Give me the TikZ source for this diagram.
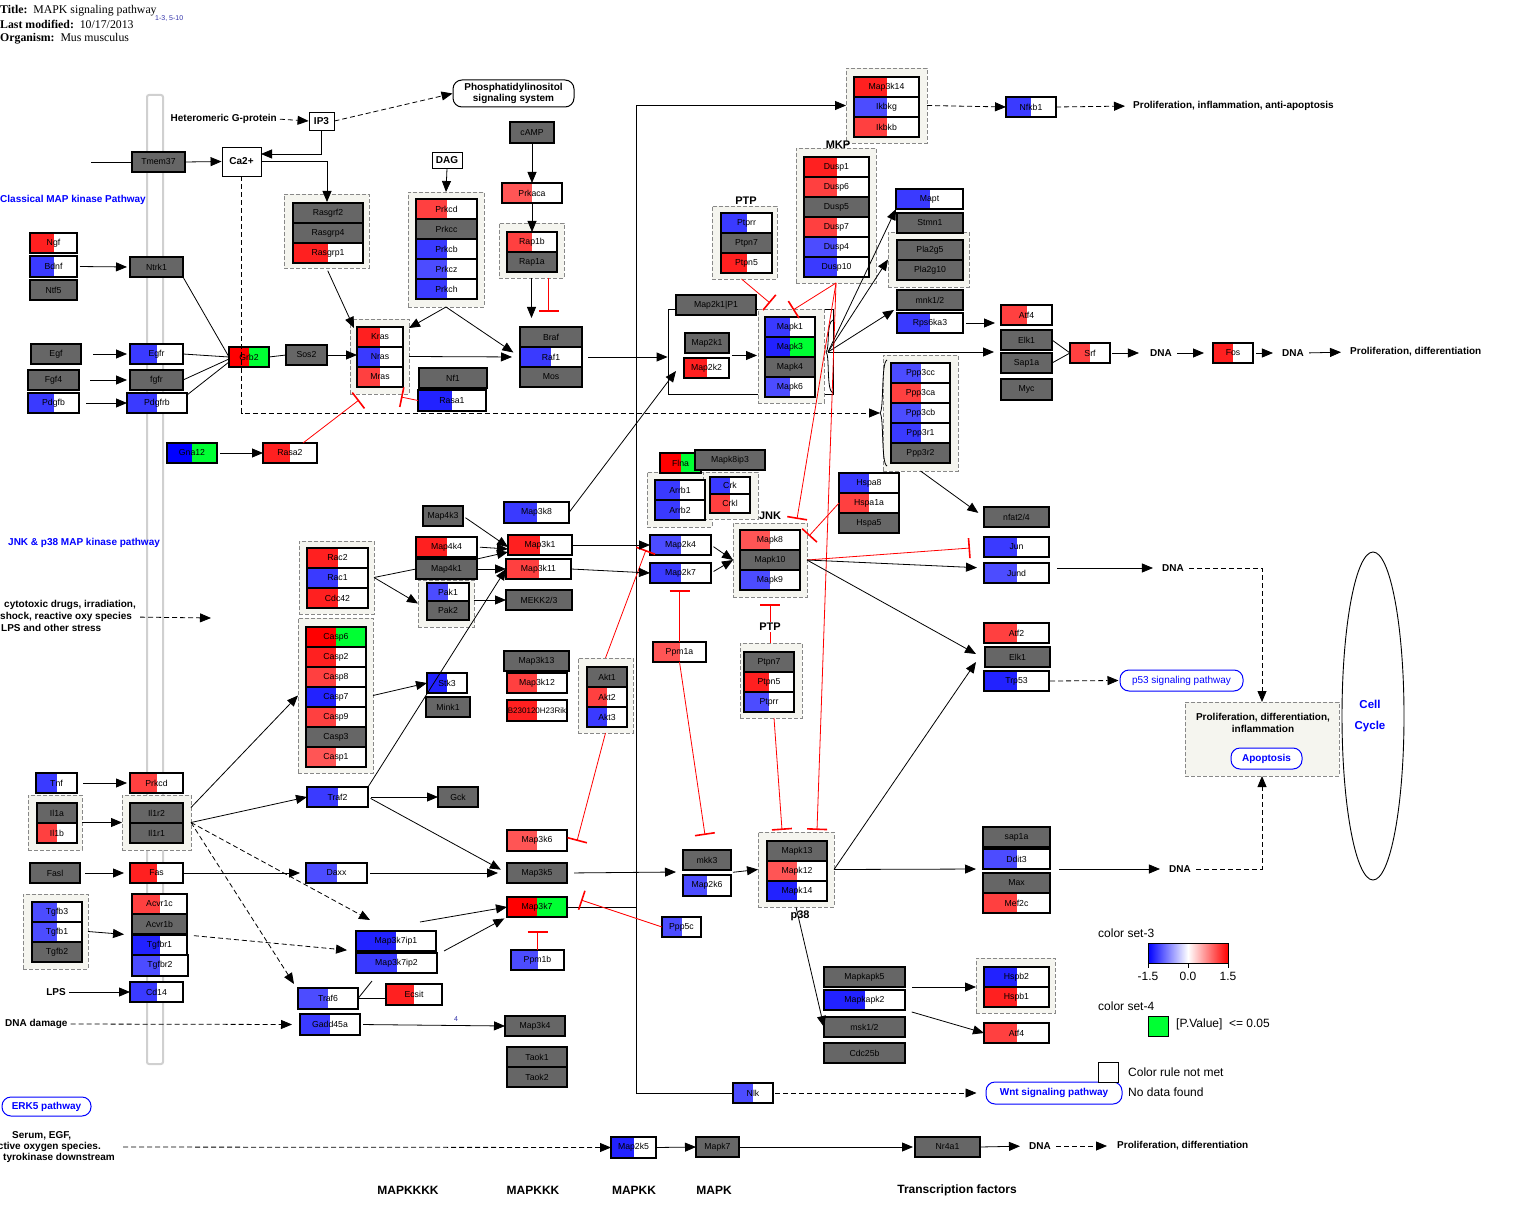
\documentclass[tikz,border=0pt]{standalone}
\usepackage{fontspec}
\setmainfont{Liberation Sans}
\newfontfamily\hdrserif{Liberation Serif}
\usetikzlibrary{arrows.meta,shapes.geometric,calc}
\definecolor{ngray}{HTML}{666666}
\definecolor{ra}{HTML}{FF2020}
\definecolor{rb}{HTML}{FF4040}
\definecolor{rc}{HTML}{FF5555}
\definecolor{rr}{HTML}{FF0000}
\definecolor{ba}{HTML}{2222FF}
\definecolor{bb}{HTML}{3A3AFF}
\definecolor{bc}{HTML}{4C4CFF}
\definecolor{bp}{HTML}{0000FF}
\definecolor{gg}{HTML}{00FF33}
\definecolor{ivory}{HTML}{F5F5EF}
\definecolor{grpborder}{HTML}{888888}
\definecolor{lanegray}{HTML}{D0D0D0}
\definecolor{hdrblue}{HTML}{3333AA}
\newcommand\genefont{\fontsize{8.7}{9.5}\selectfont}
\newcommand\lblfont{\bfseries\fontsize{10}{11.5}\selectfont}
\newcommand\midfont{\bfseries\fontsize{11}{12}\selectfont}
\newcommand\bigfont{\bfseries\fontsize{12}{13}\selectfont}
\newcommand\legfont{\fontsize{12}{13}\selectfont}
\newcommand\hdrfont{\hdrserif\fontsize{11.8}{13}\selectfont}
\tikzset{
  gene/.style={draw=black,line width=1.1pt,inner sep=0pt,outer sep=0pt,font=\genefont,text=black},
  grp/.style={draw=grpborder,dash pattern=on 4pt off 2pt,fill=ivory,line width=0.8pt,inner sep=0pt,outer sep=0pt},
  wbx/.style={draw=black,line width=0.9pt,fill=white,inner sep=0pt,font=\lblfont},
  pwb/.style={draw=blue,line width=1pt,rounded corners=9pt,text=blue,font=\lblfont,inner sep=0pt,fill=white},
  lbl/.style={font=\lblfont,inner sep=0pt},
  ln/.style={line width=0.8pt},
  con/.style={line width=0.8pt,-{Triangle[length=11pt,width=9pt]},shorten <=3pt},
  dcon/.style={con,dash pattern=on 5pt off 3pt},
  inh/.style={draw=red,line width=0.8pt,-{Bar[width=20pt,line width=1.6pt]}},
}
% gray gene box
\newcommand\geneN[6]{%
  \node[gene,fill=ngray,minimum width={(#4)-(#2)},minimum height={(#5)-(#3)}] (#1) at ({((#2)+(#4))/2},{((#3)+(#5))/2}) {#6};}
% half coloured gene box
\newcommand\geneC[7]{%
  \fill[white] (#2,#3) rectangle (#4,#5);
  \fill[#6] (#2,#3) rectangle ({((#2)+(#4))/2},#5);
  \node[gene,minimum width={(#4)-(#2)},minimum height={(#5)-(#3)}] (#1) at ({((#2)+(#4))/2},{((#3)+(#5))/2}) {#7};}
% two coloured gene box
\newcommand\geneD[8]{%
  \fill[#7] (#2,#3) rectangle (#4,#5);
  \fill[#6] (#2,#3) rectangle ({((#2)+(#4))/2},#5);
  \node[gene,minimum width={(#4)-(#2)},minimum height={(#5)-(#3)}] (#1) at ({((#2)+(#4))/2},{((#3)+(#5))/2}) {#8};}
\newcommand\grpbox[5]{%
  \node[grp,minimum width={(#4)-(#2)},minimum height={(#5)-(#3)}] (#1) at ({((#2)+(#4))/2},{((#3)+(#5))/2}) {};}
\newcommand\whitebox[6]{%
  \node[wbx,minimum width={(#4)-(#2)},minimum height={(#5)-(#3)}] (#1) at ({((#2)+(#4))/2},{((#3)+(#5))/2}) {#6};}
\begin{document}
\begin{tikzpicture}[x=1pt,y=-1pt]
\useasboundingbox (0,0) rectangle (1520,1230);
\fill[white] (0,0) rectangle (1520,1230);

% ---------- header
\node[anchor=west,font=\hdrfont,inner sep=0] (title) at (0,11) {\textbf{Title:}\ \ MAPK signaling pathway};
\node[anchor=west,font=\hdrfont,inner sep=0] (lastmod) at (0,24) {\textbf{Last modified:}\ \ 10/17/2013};
\node[anchor=west,font=\hdrfont,inner sep=0] (organism) at (0,39) {\textbf{Organism:}\ \ Mus musculus};
\node[anchor=west,font=\fontsize{7}{8}\selectfont,text=hdrblue,inner sep=0] (refs) at (155,19) {1-3, 5-10};

% ---------- membrane lane
\draw[draw=lanegray,line width=2pt,rounded corners=2pt] (147,95) rectangle (163,1064);

% ---------- big MEK rectangle
\node[draw,line width=0.8pt,minimum width=165,minimum height=85,inner sep=0] (mekbox) at (750.5,351.5) {};

% ---------- groups
\grpbox{rasgrfg}{284}{194}{369}{268}
\grpbox{rasg}{350}{319}{409}{394}
\grpbox{prkcg}{408}{192}{484}{307}
\grpbox{rap1g}{499}{223}{564}{278}
\grpbox{m3k14g}{846}{68}{927}{143}
\grpbox{mkpg}{796}{148}{876}{283}
\grpbox{ptp1g}{712}{206}{777}{279}
\grpbox{erkg}{758}{309}{824}{403}
\grpbox{pla2gg}{888}{232}{969}{287}
\grpbox{ppp3g}{883}{355}{958}{471}
\grpbox{arrbg}{647}{472}{712}{527}
\grpbox{crkg}{703}{472}{758}{519}
\grpbox{jnkg}{733}{523}{807}{597}
\grpbox{pakg}{418}{580}{474}{627}
\grpbox{racg}{299}{541}{374}{614}
\grpbox{caspg}{298}{618}{373}{773}
\grpbox{aktg}{578}{658}{633}{733}
\grpbox{ptp2g}{740}{643}{802}{718}
\grpbox{il1g}{28}{795}{82}{850}
\grpbox{il1rg}{122}{795}{191}{850}
\grpbox{tgfbg}{23}{894}{88}{969}
\grpbox{p38g}{758}{832}{834}{907}
\grpbox{hspbg}{976}{958}{1055}{1013}

% ---------- top row
\geneN{tmem}{132}{152}{185}{172}{Tmem37}
\whitebox{ca}{222}{147}{261}{176}{Ca2+}
\whitebox{ip3}{309}{112}{334}{130}{IP3}
\whitebox{dag}{432}{152}{462}{168}{DAG}
\node[pwb,draw=black,text=black,align=center,minimum width=121,minimum height=27] (pis) at (513.5,93.5) {Phosphatidylinositol\\signaling system};
\node[lbl,anchor=east] (hgp) at (277,119) {Heteromeric G-protein};
\node[lbl,anchor=west,text=blue] (classical) at (0,200) {Classical MAP kinase Pathway};

\geneN{rasgrf2}{293}{203}{363}{223}{Rasgrf2}
\geneN{rasgrp4}{293}{223}{363}{243}{Rasgrp4}
\geneC{rasgrp1}{293}{243}{363}{263}{ra}{Rasgrp1}

\geneC{ngf}{30}{233}{77}{253}{ra}{Ngf}
\geneC{bdnf}{30}{256}{77}{277}{bb}{Bdnf}
\geneN{ntf5}{30}{280}{77}{300}{Ntf5}
\geneN{ntrk1}{130}{257}{183}{277}{Ntrk1}
\geneN{egf}{31}{344}{81}{364}{Egf}
\geneC{egfr}{130}{344}{183}{364}{bb}{Egfr}
\geneN{fgf4}{28}{370}{79}{390}{Fgf4}
\geneN{fgfr}{130}{370}{183}{390}{fgfr}
\geneC{pdgfb}{28}{393}{79}{413}{bb}{Pdgfb}
\geneC{pdgfrb}{127}{393}{187}{413}{bb}{Pdgfrb}
\geneD{grb2}{229}{347}{269}{367}{rr}{gg}{Grb2}
\geneN{sos2}{286}{345}{327}{365}{Sos2}
\geneC{kras}{357}{327}{403}{347}{ra}{Kras}
\geneC{nras}{357}{347}{403}{367}{bb}{Nras}
\geneC{mras}{357}{367}{403}{387}{rb}{Mras}
\geneN{nf1}{419}{368}{487}{388}{Nf1}
\geneC{rasa1}{418}{390}{486}{411}{ba}{Rasa1}
\geneD{gna12}{167}{443}{217}{463}{bp}{gg}{Gna12}
\geneC{rasa2}{263}{443}{317}{463}{ra}{Rasa2}

\geneC{prkcd}{416}{199}{477}{219}{rb}{Prkcd}
\geneN{prkcc}{416}{219}{477}{239}{Prkcc}
\geneC{prkcb}{416}{239}{477}{259}{bb}{Prkcb}
\geneC{prkcz}{416}{259}{477}{279}{bc}{Prkcz}
\geneC{prkch}{416}{279}{477}{299}{bb}{Prkch}
\geneN{camp}{510}{122}{554}{143}{cAMP}
\geneC{prkaca}{502}{183}{562}{203}{rc}{Prkaca}
\geneC{rap1b}{507}{232}{557}{252}{rb}{Rap1b}
\geneN{rap1a}{507}{252}{557}{272}{Rap1a}
\geneN{braf}{520}{327}{582}{347}{Braf}
\geneC{raf1}{520}{347}{582}{367}{bb}{Raf1}
\geneN{mos}{520}{367}{582}{387}{Mos}

\geneN{m2kip}{676}{295}{756}{315}{Map2k1|P1}
\geneN{map2k1}{685}{333}{729}{353}{Map2k1}
\geneC{map2k2}{684}{358}{729}{378}{ra}{Map2k2}
\geneC{mapk1}{765}{317}{815}{337}{bb}{Mapk1}
\geneD{mapk3}{765}{337}{815}{357}{ba}{gg}{Mapk3}
\geneN{mapk4}{765}{357}{815}{377}{Mapk4}
\geneC{mapk6}{765}{377}{815}{397}{bc}{Mapk6}

\geneC{ptprr1}{721}{213}{772}{233}{bb}{Ptprr}
\geneN{ptpn7a}{721}{233}{772}{253}{Ptpn7}
\geneC{ptpn5a}{721}{253}{772}{273}{ra}{Ptpn5}
\node[font=\midfont,inner sep=0] (ptp1lbl) at (746,201) {PTP};

\geneC{dusp1}{804}{157}{869}{177}{ra}{Dusp1}
\geneC{dusp6}{804}{177}{869}{197}{rb}{Dusp6}
\geneN{dusp5}{804}{197}{869}{217}{Dusp5}
\geneC{dusp7}{804}{217}{869}{237}{rb}{Dusp7}
\geneC{dusp4}{804}{237}{869}{257}{bc}{Dusp4}
\geneC{dusp10}{804}{257}{869}{277}{bb}{Dusp10}
\node[font=\midfont,inner sep=0] (mkplbl) at (838,145) {MKP};

\geneC{map3k14}{854}{77}{919}{97}{ra}{Map3k14}
\geneC{ikbkg}{854}{97}{919}{117}{bc}{Ikbkg}
\geneC{ikbkb}{854}{117}{919}{137}{rb}{Ikbkb}
\geneC{nfkb1}{1006}{97}{1056}{117}{bb}{Nfkb1}
\node[lbl,anchor=west] (prolif2) at (1133,106) {Proliferation, inflammation, anti-apoptosis};

\geneC{mapt}{896}{189}{963}{209}{bb}{Mapt}
\geneN{stmn1}{897}{213}{963}{233}{Stmn1}
\geneN{pla2g5}{897}{240}{963}{260}{Pla2g5}
\geneN{pla2g10}{897}{260}{963}{280}{Pla2g10}
\geneN{mnk}{897}{290}{963}{310}{mnk1/2}
\geneC{rps6ka3}{897}{313}{963}{333}{bb}{Rps6ka3}
\geneC{atf4a}{1001}{305}{1052}{325}{rb}{Atf4}
\geneN{elk1t}{1001}{330}{1052}{350}{Elk1}
\geneN{sap1at}{1001}{353}{1052}{373}{Sap1a}
\geneN{myc}{1001}{379}{1052}{400}{Myc}
\geneC{srf}{1070}{343}{1110}{363}{rb}{Srf}
\node[lbl] (dna1) at (1161,353) {DNA};
\geneC{fos}{1213}{343}{1253}{363}{ra}{Fos}
\node[lbl] (dna2) at (1293,353) {DNA};
\node[lbl,anchor=west] (prolif1) at (1350,352) {Proliferation, differentiation};

\geneC{ppp3cc}{891}{363}{950}{383}{bc}{Ppp3cc}
\geneC{ppp3ca}{891}{383}{950}{403}{rb}{Ppp3ca}
\geneC{ppp3cb}{891}{403}{950}{423}{bc}{Ppp3cb}
\geneC{ppp3r1}{891}{423}{950}{443}{bb}{Ppp3r1}
\geneN{ppp3r2}{891}{443}{950}{463}{Ppp3r2}

% ---------- JNK region
\node[lbl,anchor=west,text=blue] (jnktxt) at (8,543) {JNK \& p38 MAP kinase pathway};
\geneD{flna}{660}{453}{701}{473}{rr}{gg}{Flna}
\geneN{mapk8ip3}{695}{450}{765}{470}{Mapk8ip3}
\geneC{arrb1}{655}{480}{705}{500}{bb}{Arrb1}
\geneC{arrb2}{655}{500}{705}{520}{bb}{Arrb2}
\geneC{crk}{710}{477}{750}{494}{bb}{Crk}
\geneC{crkl}{710}{494}{750}{513}{rb}{Crkl}
\geneC{map2k4}{650}{535}{711}{555}{bc}{Map2k4}
\geneC{map2k7}{650}{563}{711}{583}{bb}{Map2k7}
\geneC{ppm1a}{653}{642}{706}{662}{rc}{Ppm1a}
\geneC{mapk8}{740}{530}{800}{550}{rc}{Mapk8}
\geneN{mapk10}{740}{550}{800}{570}{Mapk10}
\geneC{mapk9}{740}{570}{800}{590}{bc}{Mapk9}
\node[font=\midfont,inner sep=0] (jnklbl) at (770,516) {JNK};
\geneC{hspa8}{839}{473}{899}{493}{bb}{Hspa8}
\geneC{hspa1a}{839}{493}{899}{513}{rb}{Hspa1a}
\geneN{hspa5}{839}{513}{899}{533}{Hspa5}
\geneN{nfat}{984}{507}{1049}{527}{nfat2/4}
\geneC{jun}{984}{537}{1049}{557}{bb}{Jun}
\geneC{jund}{984}{563}{1049}{583}{bc}{Jund}
\node[lbl] (dna3) at (1173,568) {DNA};
\geneC{atf2}{984}{623}{1049}{643}{rb}{Atf2}
\geneN{elk1b}{985}{647}{1050}{667}{Elk1}
\geneC{trp53}{984}{671}{1049}{691}{ba}{Trp53}
\node[pwb,font=\fontsize{10}{11}\selectfont,minimum width=123,minimum height=21] (p53) at (1181.5,680.5) {p53 signaling pathway};
\geneN{ptpn7b}{744}{652}{794}{672}{Ptpn7}
\geneC{ptpn5b}{744}{672}{794}{692}{ra}{Ptpn5}
\geneC{ptprr2}{744}{692}{794}{712}{bc}{Ptprr}

\geneN{map4k3}{423}{506}{463}{526}{Map4k3}
\geneC{map4k4}{416}{537}{477}{557}{ra}{Map4k4}
\geneN{map4k1}{416}{559}{477}{579}{Map4k1}
\geneC{pak1}{427}{583}{469}{601}{bc}{Pak1}
\geneN{pak2}{427}{601}{469}{620}{Pak2}
\geneC{map3k8}{504}{502}{569}{523}{bb}{Map3k8}
\geneC{map3k1}{508}{535}{572}{555}{ra}{Map3k1}
\geneC{map3k11}{506}{559}{571}{579}{rb}{Map3k11}
\geneN{mekk23}{506}{590}{572}{610}{MEKK2/3}

\geneC{rac2}{307}{548}{368}{568}{ra}{Rac2}
\geneC{rac1}{307}{568}{368}{588}{bb}{Rac1}
\geneC{cdc42}{307}{588}{368}{608}{ra}{Cdc42}
\geneD{casp6}{306}{627}{366}{647}{rr}{gg}{Casp6}
\geneC{casp2}{306}{647}{366}{667}{ra}{Casp2}
\geneC{casp8}{306}{667}{366}{687}{rb}{Casp8}
\geneC{casp7}{306}{687}{366}{707}{ba}{Casp7}
\geneC{casp9}{306}{707}{366}{727}{rb}{Casp9}
\geneN{casp3}{306}{727}{366}{747}{Casp3}
\geneC{casp1}{306}{747}{366}{767}{rc}{Casp1}

\node[lbl,anchor=west] (stress1) at (4,605) {cytotoxic drugs, irradiation,};
\node[lbl,anchor=west] (stress2) at (0,617) {shock, reactive oxy species};
\node[lbl,anchor=west] (stress3) at (1,628) {LPS and other stress};
\coordinate (stressend) at (211,618);

\geneC{stk3}{427}{673}{467}{693}{ba}{Stk3}
\geneN{mink1}{426}{697}{470}{717}{Mink1}
\geneN{map3k13}{504}{651}{569}{671}{Map3k13}
\geneC{map3k12}{507}{673}{567}{693}{rb}{Map3k12}
\geneC{rik}{507}{700}{567}{721}{ra}{\fontsize{8}{9}\selectfont B230120H23Rik}
\geneN{akt1}{587}{667}{627}{687}{Akt1}
\geneC{akt2}{587}{687}{627}{707}{rb}{Akt2}
\geneC{akt3}{587}{707}{627}{727}{bb}{Akt3}

% ---------- lower left
\geneC{tnf}{36}{773}{77}{793}{bb}{Tnf}
\geneC{prkcd2}{130}{773}{183}{793}{rb}{Prkcd}
\geneN{il1a}{37}{803}{77}{823}{Il1a}
\geneC{il1b}{37}{823}{77}{843}{rb}{Il1b}
\geneN{il1r2}{130}{803}{183}{823}{Il1r2}
\geneN{il1r1}{130}{823}{183}{843}{Il1r1}
\geneC{traf2}{307}{787}{368}{807}{bb}{Traf2}
\geneN{gck}{438}{787}{478}{807}{Gck}
\geneN{fasl}{30}{863}{80}{883}{Fasl}
\geneC{fas}{130}{863}{183}{883}{ra}{Fas}
\geneC{daxx}{306}{863}{367}{883}{bc}{Daxx}
\geneC{tgfb3}{32}{902}{82}{922}{bc}{Tgfb3}
\geneC{tgfb1}{32}{922}{82}{942}{bc}{Tgfb1}
\geneN{tgfb2}{32}{942}{82}{962}{Tgfb2}
\geneC{acvr1c}{132}{894}{187}{914}{rb}{Acvr1c}
\geneN{acvr1b}{132}{914}{187}{934}{Acvr1b}
\geneC{tgfbr1}{132}{935}{187}{955}{ba}{Tgfbr1}
\geneC{tgfbr2}{132}{955}{188}{976}{bc}{Tgfbr2}
\node[lbl] (lps) at (56,992) {LPS};
\geneC{cd14}{130}{982}{183}{1002}{bb}{Cd14}
\node[lbl,anchor=west] (dnadmg) at (5,1024) {DNA damage};
\geneC{m3k7ip1}{356}{931}{436}{951}{ba}{Map3k7ip1}
\geneC{m3k7ip2}{356}{953}{437}{973}{bb}{Map3k7ip2}
\geneC{traf6}{298}{988}{358}{1009}{bc}{Traf6}
\geneC{ecsit}{386}{984}{442}{1005}{ra}{Ecsit}
\geneC{gadd45a}{300}{1014}{360}{1035}{bb}{Gadd45a}

\geneC{map3k6}{507}{830}{567}{851}{rc}{Map3k6}
\geneN{map3k5}{507}{863}{567}{883}{Map3k5}
\geneD{map3k7}{507}{897}{567}{917}{rr}{gg}{Map3k7}
\geneC{ppm1b}{511}{950}{564}{970}{bc}{Ppm1b}
\geneN{map3k4}{505}{1016}{565}{1036}{Map3k4}
\geneN{taok1}{507}{1047}{567}{1067}{Taok1}
\geneN{taok2}{507}{1067}{567}{1087}{Taok2}
\geneN{mkk3}{683}{850}{731}{870}{mkk3}
\geneC{map2k6}{683}{875}{731}{896}{bc}{Map2k6}
\geneC{ppp5c}{662}{917}{701}{937}{bc}{Ppp5c}

\geneN{mapk13}{767}{841}{827}{861}{Mapk13}
\geneC{mapk12}{767}{861}{827}{881}{rc}{Mapk12}
\geneC{mapk14}{767}{881}{827}{901}{ba}{Mapk14}
\node[font=\midfont,inner sep=0] (p38lbl) at (800,916) {p38};
\geneN{sap1ab}{983}{827}{1050}{847}{sap1a}
\geneC{ddit3}{983}{849}{1050}{869}{bc}{Ddit3}
\geneN{max}{983}{873}{1050}{893}{Max}
\geneC{mef2c}{983}{893}{1050}{913}{rb}{Mef2c}
\node[lbl] (dna4) at (1180,869) {DNA};
\geneN{mapkapk5}{824}{967}{905}{987}{Mapkapk5}
\geneC{mapkapk2}{824}{990}{905}{1010}{ba}{Mapkapk2}
\geneN{msk}{824}{1017}{905}{1037}{msk1/2}
\geneN{cdc25b}{824}{1043}{905}{1063}{Cdc25b}
\geneC{hspb2}{984}{967}{1049}{987}{ba}{Hspb2}
\geneC{hspb1}{984}{987}{1049}{1007}{ra}{Hspb1}
\geneC{atf4b}{984}{1023}{1049}{1043}{rb}{Atf4}

% ---------- bottom
\node[pwb,minimum width=89,minimum height=19] (erk5) at (46.5,1106.5) {ERK5 pathway};
\node[lbl,anchor=west] (ser1) at (12,1136) {Serum, EGF,};
\node[lbl,anchor=east] (ser2) at (101,1147) {ctive oxygen species.};
\node[lbl,anchor=west] (ser3) at (3,1158) {tyrokinase downstream};
\geneC{map2k5}{611}{1137}{656}{1158}{ba}{Map2k5}
\geneN{mapk7}{696}{1137}{739}{1157}{Mapk7}
\geneN{nr4a1}{915}{1137}{980}{1157}{Nr4a1}
\node[lbl] (dna5) at (1040,1146) {DNA};
\node[lbl,anchor=west] (prolif3) at (1117,1146) {Proliferation, differentiation};
\geneC{nlk}{733}{1083}{773}{1103}{bc}{Nlk}
\node[pwb,minimum width=136,minimum height=22] (wnt) at (1054,1093) {Wnt signaling pathway};
\node[font=\bigfont,inner sep=0] (lvl1) at (408,1190) {MAPKKKK};
\node[font=\bigfont,inner sep=0] (lvl2) at (533,1190) {MAPKKK};
\node[font=\bigfont,inner sep=0] (lvl3) at (634,1190) {MAPKK};
\node[font=\bigfont,inner sep=0] (lvl4) at (714,1190) {MAPK};
\node[font=\bigfont,inner sep=0] (lvl5) at (957,1190) {Transcription factors};

% ---------- outcome box and cell cycle
\node[grp,minimum width=154,minimum height=74] (prolg) at (1262,739) {};
\node[lbl,align=center] (prolt) at (1263,723) {Proliferation, differentiation,\\inflammation};
\node[pwb,minimum width=71,minimum height=21] (apop) at (1266.5,758.5) {Apoptosis};
\node[draw,ellipse,line width=0.9pt,minimum width=62,minimum height=328,inner sep=0] (cc) at (1373,716) {};
\node[font=\bfseries\fontsize{11.5}{12}\selectfont,text=blue,inner sep=0] (cell) at (1370,704) {Cell};
\node[font=\bfseries\fontsize{11.5}{12}\selectfont,text=blue,inner sep=0] (cycle) at (1370,727) {Cycle};

% ---------- legend
\node[font=\legfont,anchor=west,inner sep=0] (cs3) at (1098,933) {color set-3};
\shade[left color=blue,right color=red,middle color=white] (1148,943) rectangle (1228,963);
\draw[line width=0.8pt] (1148,943) rectangle (1228,963);
\draw[line width=0.8pt] (1148,963) -- (1148,968) (1188,963) -- (1188,968) (1228,963) -- (1228,968);
\node[font=\legfont,inner sep=0] (tk1) at (1148,976) {-1.5};
\node[font=\legfont,inner sep=0] (tk2) at (1188,976) {0.0};
\node[font=\legfont,inner sep=0] (tk3) at (1228,976) {1.5};
\node[font=\legfont,anchor=west,inner sep=0] (cs4) at (1098,1006) {color set-4};
\node[draw,fill=gg,line width=1pt,minimum size=20,inner sep=0] (pvbox) at (1158,1026) {};
\node[font=\legfont,anchor=west,inner sep=0] (pvtxt) at (1176,1024) {[P.Value]\ \ <= 0.05};
\node[draw,line width=0.9pt,fill=white,minimum size=20,inner sep=0] (crbox) at (1108,1072) {};
\node[font=\legfont,anchor=west,inner sep=0] (crtxt) at (1128,1072) {Color rule not met};
\node[font=\legfont,anchor=west,inner sep=0] (ndtxt) at (1128,1092) {No data found};

% ---------- braces
\draw[ln] (833,320) .. controls (826,322) and (830,349) .. (826,352) .. controls (830,355) and (826,391) .. (833,393);
\draw[ln] (887,360) .. controls (881,362) and (884,410) .. (880,413) .. controls (884,416) and (881,464) .. (887,466);

% ---------- connectors: top
\coordinate (tmemin) at (91,162);
\coordinate (ip3bend) at (261,154);
\coordinate (rasgrftop) at (327,202);
\coordinate (ppp3in) at (880,413);
\coordinate (rasgin) at (354,328);
\coordinate (mekin) at (676,371);
\coordinate (erko) at (828,352);
\draw[ln] (tmemin) -- (tmem.west);
\draw[con,shorten <=0pt] (tmem.east) -- (ca.west);
\draw[dcon] (hgp.east) -- (ip3.west);
\draw[con,shorten <=0pt] (ip3.south) |- (ip3bend);
\draw[dcon,shorten <=0pt] (ip3.east) -- (pis.west);
\draw[con,shorten <=0pt] (ca.east) -| (rasgrftop);
\draw[dcon,shorten <=0pt] (ca.south) |- (ppp3in);

\draw[con,shorten >=3pt] (bdnf.east) -- (ntrk1.west);
\draw[con,shorten <=12pt,shorten >=3pt] (egf.east) -- (egfr.west);
\draw[con,shorten <=11pt,shorten >=3pt] (fgf4.east) -- (fgfr.west);
\draw[con,shorten <=7pt] (pdgfb.east) -- (pdgfrb.west);
\draw[ln] (ntrk1.south east) -- (grb2.west);
\draw[ln] (egfr.east) -- (grb2.west);
\draw[ln] (fgfr.east) -- ([yshift=-2pt]grb2.west);
\draw[ln] ([yshift=-2pt]pdgfrb.north east) -- ([yshift=-5pt]grb2.west);
\draw[ln] (grb2.east) -- (sos2.west);
\draw[con,shorten <=0pt] (sos2.east) -- (kras.west |- sos2.east);
\draw[con] (rasgrfg.south) -- (rasgin);
\draw[con] (gna12.east) -- (rasa2.west);
\draw[inh] ([xshift=13pt]rasa2.north) -- (359,400);
\draw[inh] (rasa1.west) -- (401,397);

\draw[con,shorten <=0pt] (dag.south) -- (prkcg.north);
\draw[con,shorten <=0pt] (prkcg.south) -- ([yshift=-9pt]rasg.north east);
\draw[con,shorten <=0pt,shorten >=8pt] (prkcg.south) -- (raf1.west);
\draw[con,shorten <=0pt,shorten >=8pt] (rasg.east) -- (raf1.west);
\draw[con,shorten <=0pt] (camp.south) -- (prkaca.north);
\draw[con,shorten <=0pt] (prkaca.south) -- (rap1b.north);
\draw[con,shorten <=0pt,shorten >=9pt] (rap1g.south) -- (braf.north -| rap1g.south);
\draw[inh] ([xshift=17pt]rap1g.south) -- ++(0,34);
\draw[con,shorten <=6pt] (raf1.east) -- (raf1.east -| mekbox.west);
\draw[con,shorten <=3pt] ($(map2k1.south east)!0.5!(map2k2.north east)$) -- +(28,0);
\draw[con,shorten <=0pt] (map3k8.east) -- (mekin);

\draw[con,shorten <=0pt] (erko) -- (mapt.south west);
\draw[con,shorten <=0pt] (erko) -- (pla2gg.west);
\draw[con,shorten <=0pt] (erko) -- ([xshift=-3pt]mnk.south west);
\draw[con,shorten <=0pt,shorten >=7pt] (erko) -- (erko -| elk1t.west);
\draw[con] (rps6ka3.east) -- ([xshift=-6pt,yshift=-8pt]atf4a.west);
\draw[ln] (elk1t.east) -- (srf.west);
\draw[ln] (sap1at.east) -- (srf.west);
\draw[con,shorten <=2pt,shorten >=11pt] (srf.east) -- (dna1.west);
\draw[con,shorten <=5pt,shorten >=9pt] (dna1.east) -- (fos.west);
\draw[con,shorten <=3pt,shorten >=9pt] (fos.east) -- (dna2.west);
\draw[con,shorten <=5pt,shorten >=9pt] (dna2.east) -- (prolif1.west);
\draw[dcon,shorten <=0pt] (m3k14g.east) -- (nfkb1.west);
\draw[dcon,shorten <=0pt,shorten >=8pt] (nfkb1.east) -- (prolif2.west);

% big L
\coordinate (bigl) at (636,907);
\draw[ln] (map3k7.east) -- (bigl);
\draw[con,shorten <=0pt] (bigl) |- (m3k14g.west);
\draw[ln] (nlk.west) -| (bigl);

% inhibitions on ERK, JNK, p38
\draw[inh] ([xshift=-3pt]ptp1g.south) -- (770,303);
\draw[inh] (mkpg.south) -- (793,310);
\draw[inh] (mkpg.south) -- (797,519);
\draw[inh] (mkpg.south) -- (817,830);
\draw[inh] (hspa1a.west) -- (809,536);
\draw[inh] (ppm1a.north) -- ++(0,-52);
\draw[inh] (ppm1a.south) -- (705,835);
\draw[inh] (aktg.north) -- (646,550);
\draw[inh] (aktg.south) -- (577,841);
\draw[inh] ([xshift=-1pt]ptp2g.north) -- ++(0,-39);
\node[font=\midfont,fill=white,inner sep=1pt] (ptp2lbl) at (770,627) {PTP};
\draw[inh] ([xshift=3pt]ptp2g.south) -- (782,830);
\draw[inh] (ppp5c.west) -- (581,900);
\draw[inh] (ppm1b.north) -- ++(0,-19);

% JNK connectors
\draw[con] (map2k4.east) -- (jnkg.west);
\draw[con] (map2k7.east) -- (jnkg.west);
\draw[inh,shorten >=14pt] (jnkg.east) -- (jun.west);
\draw[con,shorten <=0pt,shorten >=7pt] (jnkg.east) -- ([yshift=5pt]jund.west);
\draw[con,shorten <=0pt] (jnkg.east) -- ([xshift=-9pt,yshift=3pt]elk1b.west);
\draw[con,shorten <=0pt,shorten >=7pt] (ppp3g.south) -- (nfat.west);
\draw[con,shorten <=8pt,shorten >=9pt] (jund.east |- dna3.west) -- (dna3.west);
\draw[dcon,shorten <=5pt] (dna3.east) -| (prolg.north);
\draw[dcon,shorten <=1pt,shorten >=1pt] (trp53.east) -- (p53.west);

% MAP4K / MAP3K
\draw[con] (map4k3.east) -- ([yshift=-2pt]map3k1.west);
\draw[con] (map4k4.east) -- ([yshift=-4pt]map3k1.west);
\draw[con,shorten <=0pt] (map4k1.north east) -- ([yshift=-7pt]map3k1.west);
\draw[con,shorten <=0pt] (map4k1.east) -- (map3k11.west);
\draw[con,shorten <=0pt] (pakg.east |- mekk23.west) -- (mekk23.west);
\draw[ln] (racg.east) -- (map4k1.west);
\draw[con,shorten <=0pt] (racg.east) -- (pakg.west);
\draw[con,shorten <=0pt] (map3k1.east) -- (map2k4.west);
\draw[con,shorten <=0pt] (map3k11.east) -- (map2k7.west);
\draw[dcon,shorten <=8pt] (stress2.east) -- (stressend);

% lower left connectors
\draw[con,shorten <=6pt,shorten >=3pt] (tnf.east) -- (prkcd2.west);
\draw[con,shorten <=0pt] (il1g.east) -- (il1rg.west);
\draw[con,shorten <=0pt] ([yshift=15pt]il1rg.east) -- (caspg.west);
\draw[con,shorten <=0pt] (il1rg.east) -- (traf2.west);
\draw[dcon,shorten <=0pt] (il1rg.east) -- ([xshift=14pt,yshift=11pt]m3k7ip1.north west);
\draw[dcon,shorten <=0pt] (il1rg.east) -- ([xshift=-4pt,yshift=4pt]traf6.north west);
\draw[con,shorten <=0pt] (caspg.east) -- (stk3.west);
\draw[con] (traf2.east) -- (gck.west);
\draw[con,shorten >=7pt] (traf2.east) -- (map3k5.west);
\draw[con,shorten <=0pt] (traf2.north east) -- (map3k11.west);
\draw[con,shorten <=5pt,shorten >=6pt] (fasl.east) -- (fas.west);
\draw[con,shorten <=0pt,shorten >=6pt] (fas.east) -- (daxx.west);
\draw[con,shorten >=9pt] (daxx.east) -- (map3k5.west);
\draw[con,shorten <=0pt,shorten >=8pt] (tgfbg.east) -- (tgfbr1.north west);
\draw[dcon,shorten <=7pt,shorten >=9pt] (tgfbr1.north east) -- (m3k7ip1.south west);
\draw[con] (lps.east) -- (cd14.west);
\draw[dcon,shorten <=3pt,shorten >=8pt] (dnadmg.east) -- (gadd45a.west);
\draw[con] (gadd45a.east) -- (map3k4.west);
\node[font=\fontsize{7}{8}\selectfont,text=hdrblue,inner sep=0] (four) at (456,1019) {4};
\coordinate (t6up) at (372,981);
\draw[ln] (traf6.east) -- (traf6.east -| ecsit.west);
\draw[ln] (traf6.east) -- (t6up);
\draw[con,shorten <=0pt] ([xshift=24pt,yshift=9pt]m3k7ip1.north) -- (map3k7.west);
\draw[con,shorten <=0pt,shorten >=3pt] ([xshift=8pt]m3k7ip1.south east) -- (map3k7.south west);
\coordinate (mkkin) at (676,872);
\draw[con,shorten <=7pt] (map3k5.east) -- (mkkin);
\draw[con,shorten <=2pt] ($(mkk3.south east)!0.5!(map2k6.north east)$) -- (p38g.west);

% p38 connectors
\coordinate (atf2in) at (976,662);
\draw[con,shorten <=0pt,shorten >=7pt] (p38g.east) -- (ddit3.south west);
\draw[con,shorten <=0pt] (p38g.east) -- (atf2in);
\draw[con,shorten <=0pt] (p38g.south) -- (msk.west);
\draw[con,shorten <=7pt] (mapkapk5.south east) -- (hspbg.west |- mapkapk5.south east);
\draw[con,shorten <=7pt] (mapkapk2.south east) -- (atf4b.west);
\draw[con,shorten <=9pt,shorten >=9pt] (ddit3.south east) -- (dna4.west);
\draw[dcon,shorten <=5pt] (dna4.east) -| (prolg.south);

% bottom connectors
\draw[dcon,shorten <=22pt] (ser2.east) -- (map2k5.west);
\draw[con,shorten <=0pt] (map2k5.east) -- (mapk7.west);
\draw[con,shorten <=0pt,shorten >=2pt] (mapk7.east) -- (nr4a1.west);
\draw[con,shorten <=1pt,shorten >=9pt] (nr4a1.east) -- (dna5.west);
\draw[dcon,shorten <=5pt,shorten >=10pt] (dna5.east) -- (prolif3.west);
\draw[dcon,shorten <=2pt,shorten >=9pt] (nlk.east) -- (wnt.west);
\end{tikzpicture}
\end{document}
